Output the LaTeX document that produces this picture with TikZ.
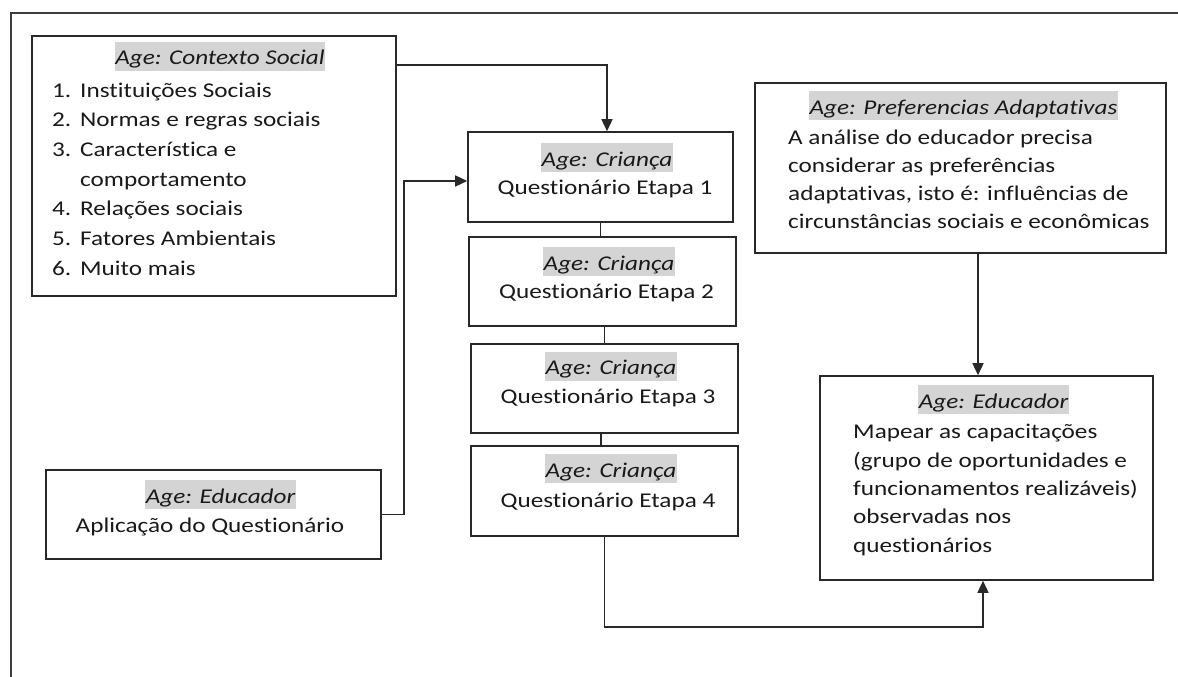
\documentclass[tikz,border=0pt]{standalone}
\usepackage{fontspec}
\setmainfont{Carlito}[FakeStretch=1.2, Ligatures={NoCommon}]
\usetikzlibrary{arrows.meta}
\definecolor{hl}{RGB}{212,212,212}
\definecolor{ln}{RGB}{40,40,40}
\definecolor{txt}{RGB}{25,25,25}
\newcommand\myfont{\fontsize{21}{25}\selectfont}
\tikzset{
  box/.style={draw=ln, line width=1.6pt, inner sep=0pt},
  conn/.style={draw=ln, line width=1.4pt},
  arr/.style={conn, -{Triangle[length=12pt,width=11pt]}},
  head/.style={anchor=base, fill=hl, inner xsep=0.5pt, inner ysep=0pt, text height=23pt, text depth=6pt, font=\myfont\itshape, text=txt},
  lline/.style={anchor=base west, inner sep=0pt, font=\myfont, text=txt},
  cline/.style={anchor=base, inner sep=0pt, font=\myfont, text=txt},
  frame/.style={draw=ln!90, line width=1.6pt}
}
\begin{document}
\begin{tikzpicture}[x=1pt,y=-1pt]
\useasboundingbox (0,0) rectangle (1178,677);
\draw[frame] (1178,13) -- (11,13) -- (11,677);

% boxes
\node[box, minimum width=364pt, minimum height=260pt] (cs) at (214,166) {};
\node[box, minimum width=265pt, minimum height=90pt] (c1) at (600.5,177) {};
\node[box, minimum width=267pt, minimum height=89pt] (c2) at (602.5,281.5) {};
\node[box, minimum width=267pt, minimum height=89pt] (c3) at (604.5,388.5) {};
\node[box, minimum width=267pt, minimum height=90pt] (c4) at (604.5,491) {};
\node[box, minimum width=335pt, minimum height=89pt] (el) at (213.5,514.5) {};
\node[box, minimum width=411pt, minimum height=170pt] (pa) at (960.5,168) {};
\node[box, minimum width=333pt, minimum height=204pt] (er) at (986.5,478) {};

% Contexto Social
\node[head] (csH) at (220,65) {Age: Contexto Social};
\node[lline] (cs1) at (52,97) {\makebox[28pt][l]{1.}Instituições Sociais};
\node[lline] (cs2) at (52,126.7) {\makebox[28pt][l]{2.}Normas e regras sociais};
\node[lline] (cs3) at (52,156.3) {\makebox[28pt][l]{3.}Característica e};
\node[lline] (cs3b) at (80,186) {comportamento};
\node[lline] (cs4) at (52,215.7) {\makebox[28pt][l]{4.}Relações sociais};
\node[lline] (cs5) at (52,245.3) {\makebox[28pt][l]{5.}Fatores Ambientais};
\node[lline] (cs6) at (52,275) {\makebox[28pt][l]{6.}Muito mais};

% Crianca boxes
\node[head] (c1H) at (607,166) {Age: Criança};
\node[cline] (c1Q) at (605,194) {Questionário Etapa 1};
\node[head] (c2H) at (609,270) {Age: Criança};
\node[cline] (c2Q) at (606.5,298) {Questionário Etapa 2};
\node[head] (c3H) at (611,374.5) {Age: Criança};
\node[cline] (c3Q) at (608,403) {Questionário Etapa 3};
\node[head] (c4H) at (611,477) {Age: Criança};
\node[cline] (c4Q) at (608,507.5) {Questionário Etapa 4};

% Educador left
\node[head] (elH) at (220.5,503) {Age: Educador};
\node[cline] (elQ) at (210,532) {Aplicação do Questionário};

% Preferencias
\node[head] (paH) at (963.5,114) {Age: Preferencias Adaptativas};
\node[lline] (pa1) at (788,144) {A análise do educador precisa};
\node[lline] (pa2) at (788,172) {considerar as preferências};
\node[lline] (pa3) at (788,200) {adaptativas, isto é: influências de};
\node[lline] (pa4) at (788,228) {circunstâncias sociais e econômicas};

% Educador right
\node[head] (erH) at (993.5,408) {Age: Educador};
\node[lline] (er1) at (853,438) {Mapear as capacitações};
\node[lline] (er2) at (853,467) {(grupo de oportunidades e};
\node[lline] (er3) at (853,495) {funcionamentos realizáveis)};
\node[lline] (er4) at (853,523) {observadas nos};
\node[lline] (er5) at (853,552) {questionários};

% connectors
\draw[arr] ([yshift=-30pt]cs.north east) -| ([xshift=6.5pt]c1.north);
\draw[arr] (el.east) -- ++(22,0) |- ([yshift=-4pt]c1.west);
\draw[conn] (c1.south) -- (c1.south |- c2.north);
\draw[conn] (c3.north) -- (c3.north |- c2.south);
\draw[conn] ([xshift=-3.5pt]c3.south) -- ([xshift=-3.5pt]c3.south |- c4.north);
\draw[arr] (c4.south) -- ++(0,90) -| ([xshift=-3.5pt]er.south);
\draw[arr] ([xshift=17.5pt]pa.south) -- ([xshift=-8.5pt]er.north);
\end{tikzpicture}
\end{document}
